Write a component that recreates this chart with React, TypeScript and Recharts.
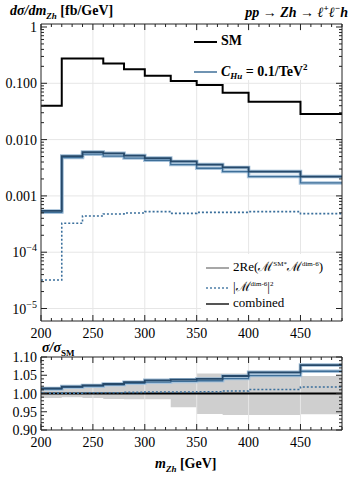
import React from "react";
import { ComposedChart, Line, Area, XAxis, YAxis, ReferenceLine } from "recharts";

// bin edges in m_Zh [GeV]; each value below belongs to [edge_i, edge_i+1)
const binEdges = [200, 220, 240, 260, 280, 300, 325, 350, 375, 400, 450, 490];
const smXsec = [0.0398, 0.276, 0.276, 0.225, 0.177, 0.136, 0.11, 0.093, 0.068, 0.047, 0.0284];
const interference = [0.00051, 0.0048, 0.0055, 0.0051, 0.0047, 0.0043, 0.0036, 0.0031, 0.0027, 0.0022, 0.0017];
const combined = [0.00054, 0.0051, 0.006, 0.0057, 0.0052, 0.0047, 0.0041, 0.0036, 0.0032, 0.0027, 0.0022];
const dimSix = [3.2e-5, 3.26e-4, 4.4e-4, 4.77e-4, 4.96e-4, 5.25e-4, 4.9e-4, 5.1e-4, 5.1e-4, 5.25e-4, 4.85e-4];

const ratioInterf = [1.012, 1.017, 1.02, 1.024, 1.028, 1.031, 1.033, 1.035, 1.041, 1.049, 1.061];
const ratioComb = [1.014, 1.019, 1.022, 1.026, 1.031, 1.036, 1.038, 1.04, 1.048, 1.058, 1.078];
const ratioDim6 = [1.001, 1.001, 1.002, 1.002, 1.003, 1.004, 1.004, 1.005, 1.007, 1.011, 1.018];
const bandLow = [0.988, 0.99, 0.988, 0.985, 0.984, 0.984, 0.962, 0.944, 0.941, 0.941, 0.943];
const bandHigh = [1.01, 1.013, 1.016, 1.02, 1.024, 1.028, 1.035, 1.055, 1.055, 1.055, 1.048];

const xMajor = [200, 250, 300, 350, 400, 450];
const xGrid = [250, 300, 350, 400, 450];
const logMajor = [1e-5, 1e-4, 1e-3, 1e-2, 0.1, 1];
const logLabels = ["10^-5", "10^-4", "0.001", "0.010", "0.100", "1"];
const ratioMajor = [0.9, 0.95, 1, 1.05, 1.1];
const ratioLabels = ["0.90", "0.95", "1.00", "1.05", "1.10"];

const xTicks = Array.from({ length: 30 }, (_, i) => 200 + 10 * i);
const logTicks = logMajor.slice(0, -1).flatMap((d) => [1, 2, 3, 4, 5, 6, 7, 8, 9].map((k) => k * d)).concat([1]);
const ratioTicks = Array.from({ length: 21 }, (_, i) => Math.round((0.9 + 0.01 * i) * 100) / 100);

const last = (arr: number[], i: number) => arr[Math.min(i, arr.length - 1)];
const topRows = binEdges.map((m, i) => ({
  m, sm: last(smXsec, i), interf: last(interference, i), comb: last(combined, i), dim6: last(dimSix, i),
}));
const ratioRows = binEdges.map((m, i) => ({
  m, interf: last(ratioInterf, i), comb: last(ratioComb, i), dim6: last(ratioDim6, i),
  band: [last(bandLow, i), last(bandHigh, i)],
}));

const FONT = "'Liberation Serif', 'DejaVu Serif', serif";
const FRAME = "#222";
const isMajor = (v: number, majors: number[]) => majors.some((m) => Math.abs(m - v) < 1e-9 * Math.max(1, Math.abs(m)) || Math.abs(m - v) / m < 1e-6);

function tickFactory(side: "left" | "right" | "top" | "bottom", majors: number[], labels?: string[]) {
  return (p: any) => {
    const { x, y, payload } = p;
    const v = payload.value;
    const maj = isMajor(v, majors);
    const len = maj ? 6 : 3;
    let line;
    if (side === "left") line = <line x1={x} x2={x + len} y1={y} y2={y} stroke={FRAME} />;
    else if (side === "right") line = <line x1={x} x2={x - len} y1={y} y2={y} stroke={FRAME} />;
    else if (side === "top") line = <line x1={x} x2={x} y1={y} y2={y + len} stroke={FRAME} />;
    else line = <line x1={x} x2={x} y1={y} y2={y - len} stroke={FRAME} />;
    let label = null;
    if (maj && labels) {
      const idx = majors.findIndex((m) => Math.abs(m - v) / m < 1e-6);
      const s = labels[idx];
      if (side === "left") {
        if (s.includes("^")) {
          const [b, e] = s.split("^");
          label = (
            <text x={x - 4} y={y + 5} textAnchor="end" fontSize={14} fontFamily={FONT} fill="#000">
              {b}<tspan dy={-6} fontSize={10}>{e.replace("-", "\u2212")}</tspan>
            </text>
          );
        } else {
          label = <text x={x - 4} y={y + 5} textAnchor="end" fontSize={14} fontFamily={FONT} fill="#000">{s}</text>;
        }
      } else if (side === "bottom") {
        label = <text x={x} y={y + 17} textAnchor="middle" fontSize={14} fontFamily={FONT} fill="#000">{s}</text>;
      }
    }
    return <g>{line}{label}</g>;
  };
}

const xLabels = xMajor.map(String);

function Overlay({ style, children }: { style: React.CSSProperties; children: React.ReactNode }) {
  return <div style={{ position: "absolute", fontFamily: FONT, color: "#000", whiteSpace: "nowrap", ...style }}>{children}</div>;
}

function Sample({ color, width, dash }: { color: string; width: number; dash?: string }) {
  return (
    <svg width={23} height={8} style={{ display: "inline-block", verticalAlign: "middle", marginRight: 4 }}>
      <line x1={0} x2={23} y1={4} y2={4} stroke={color} strokeWidth={width} strokeDasharray={dash} />
    </svg>
  );
}

const axisCommon = { tickLine: false, tickSize: 0, tickMargin: 0, interval: 0 as const, axisLine: { stroke: FRAME } };

export default function App() {
  return (
    <div style={{ position: "absolute", left: 0, top: 0, width: 355, height: 478, background: "#fff", overflow: "hidden" }}>
      <div style={{ position: "absolute", left: 0, top: 0 }}>
        <ComposedChart width={355} height={345} data={topRows} margin={{ top: 0, right: 12, bottom: 0, left: 0 }}>
          <XAxis xAxisId="b" dataKey="m" type="number" domain={[200, 490]} ticks={xTicks} height={24} {...axisCommon} tick={tickFactory("bottom", xMajor, xLabels)} />
          <XAxis xAxisId="t" dataKey="m" type="number" orientation="top" domain={[200, 490]} ticks={xTicks} height={24} {...axisCommon} tick={tickFactory("top", xMajor)} />
          <YAxis yAxisId="l" type="number" scale="log" domain={[6e-6, 1.13]} allowDataOverflow ticks={logTicks} width={41} {...axisCommon} tick={tickFactory("left", logMajor, logLabels)} />
          <YAxis yAxisId="r" type="number" scale="log" orientation="right" domain={[6e-6, 1.13]} allowDataOverflow ticks={logTicks} width={1} {...axisCommon} tick={tickFactory("right", logMajor)} />
          {xGrid.map((g) => <ReferenceLine key={"gx" + g} x={g} xAxisId="b" yAxisId="l" stroke="#e6e6e6" />)}
          {logMajor.slice(0, -1).map((g) => <ReferenceLine key={"gy" + g} y={g} xAxisId="b" yAxisId="l" stroke="#e6e6e6" />)}
          <Line xAxisId="b" yAxisId="l" type="stepAfter" dataKey="interf" stroke="#a9c4dc" strokeWidth={3.5} dot={false} isAnimationActive={false} />
          <Line xAxisId="b" yAxisId="l" type="stepAfter" dataKey="comb" stroke="#9dbad3" strokeWidth={3.5} dot={false} isAnimationActive={false} />
          <Line xAxisId="b" yAxisId="l" type="stepAfter" dataKey="interf" stroke="#3f6f98" strokeWidth={1.3} dot={false} isAnimationActive={false} />
          <Line xAxisId="b" yAxisId="l" type="stepAfter" dataKey="comb" stroke="#26496a" strokeWidth={1.8} dot={false} isAnimationActive={false} />
          <Line xAxisId="t" yAxisId="r" type="stepAfter" dataKey="dim6" stroke="#3a6f9c" strokeWidth={1.6} strokeDasharray="2 2" dot={false} isAnimationActive={false} />
          <Line xAxisId="b" yAxisId="l" type="stepAfter" dataKey="sm" stroke="#000" strokeWidth={2} dot={false} isAnimationActive={false} />
        </ComposedChart>
      </div>
      <div style={{ position: "absolute", left: 0, top: 345 }}>
        <ComposedChart width={355} height={133} data={ratioRows} margin={{ top: 0, right: 12, bottom: 0, left: 0 }}>
          <XAxis xAxisId="b" dataKey="m" type="number" domain={[200, 490]} ticks={xTicks} height={48} {...axisCommon} tick={tickFactory("bottom", xMajor, xLabels)} />
          <XAxis xAxisId="t" dataKey="m" type="number" orientation="top" domain={[200, 490]} ticks={xTicks} height={12} {...axisCommon} tick={tickFactory("top", xMajor)} />
          <YAxis yAxisId="l" type="number" domain={[0.9, 1.1]} allowDataOverflow ticks={ratioTicks} width={41} {...axisCommon} tick={tickFactory("left", ratioMajor, ratioLabels)} />
          <YAxis yAxisId="r" type="number" orientation="right" domain={[0.9, 1.1]} allowDataOverflow ticks={ratioTicks} width={1} {...axisCommon} tick={tickFactory("right", ratioMajor)} />
          {xGrid.map((g) => <ReferenceLine key={"rx" + g} x={g} xAxisId="b" yAxisId="l" stroke="#e6e6e6" />)}
          <Area xAxisId="b" yAxisId="l" type="stepAfter" dataKey="band" fill="#cfcfcf" fillOpacity={1} stroke="none" isAnimationActive={false} />
          <ReferenceLine y={1} xAxisId="b" yAxisId="l" stroke="#000" strokeWidth={2} />
          <Line xAxisId="b" yAxisId="l" type="stepAfter" dataKey="interf" stroke="#a9c4dc" strokeWidth={3.5} dot={false} isAnimationActive={false} />
          <Line xAxisId="b" yAxisId="l" type="stepAfter" dataKey="comb" stroke="#9dbad3" strokeWidth={3.5} dot={false} isAnimationActive={false} />
          <Line xAxisId="b" yAxisId="l" type="stepAfter" dataKey="interf" stroke="#3f6f98" strokeWidth={1.3} dot={false} isAnimationActive={false} />
          <Line xAxisId="b" yAxisId="l" type="stepAfter" dataKey="comb" stroke="#26496a" strokeWidth={1.8} dot={false} isAnimationActive={false} />
          <Line xAxisId="t" yAxisId="r" type="stepAfter" dataKey="dim6" stroke="#3a6f9c" strokeWidth={1.6} strokeDasharray="2 2" dot={false} isAnimationActive={false} />
        </ComposedChart>
      </div>

      <Overlay style={{ left: 10, top: 3, fontSize: 14, fontWeight: "bold" }}>
        <i>d&sigma;/dm</i><sub style={{ fontSize: 9 }}><i>Zh</i></sub> [fb/GeV]
      </Overlay>
      <Overlay style={{ right: 7, top: 3, fontSize: 14, fontWeight: "bold" }}>
        <i>pp &rarr; Zh &rarr; &#8467;<sup style={{ fontSize: 9 }}>+</sup>&#8467;<sup style={{ fontSize: 9 }}>&minus;</sup>h</i>
      </Overlay>

      <Overlay style={{ left: 188, top: 31, width: 148, height: 49, background: "#fff", fontSize: 14, fontWeight: "bold" }}>
        <div style={{ position: "absolute", left: 6, top: 2 }}><Sample color="#000" width={2} />SM</div>
        <div style={{ position: "absolute", left: 6, top: 31 }}>
          <Sample color="#3f6f98" width={1.5} /><i>C</i><sub style={{ fontSize: 9 }}><i>Hu</i></sub> = 0.1/TeV<sup style={{ fontSize: 9 }}>2</sup>
        </div>
      </Overlay>

      <Overlay style={{ left: 201, top: 254, width: 135, height: 61, background: "#fff", fontSize: 13 }}>
        <div style={{ position: "absolute", left: 5, top: 3 }}>
          <Sample color="#8a8a8a" width={1.5} />2Re(&#8499;<sup style={{ fontSize: 7 }}>SM*</sup>&#8499;<sup style={{ fontSize: 7 }}>dim-6</sup>)
        </div>
        <div style={{ position: "absolute", left: 5, top: 23 }}>
          <Sample color="#4d7fa8" width={1.5} dash="2 2" />|&#8499;<sup style={{ fontSize: 7 }}>dim-6</sup>|<sup style={{ fontSize: 7 }}>2</sup>
        </div>
        <div style={{ position: "absolute", left: 5, top: 41 }}>
          <Sample color="#555" width={2} />combined
        </div>
      </Overlay>

      <Overlay style={{ left: 42, top: 340, fontSize: 14, fontWeight: "bold" }}>
        <i>&sigma;/&sigma;</i><sub style={{ fontSize: 9 }}>SM</sub>
      </Overlay>
      <Overlay style={{ left: 155, top: 456, fontSize: 14, fontWeight: "bold" }}>
        <i>m</i><sub style={{ fontSize: 9 }}><i>Zh</i></sub> [GeV]
      </Overlay>
    </div>
  );
}
